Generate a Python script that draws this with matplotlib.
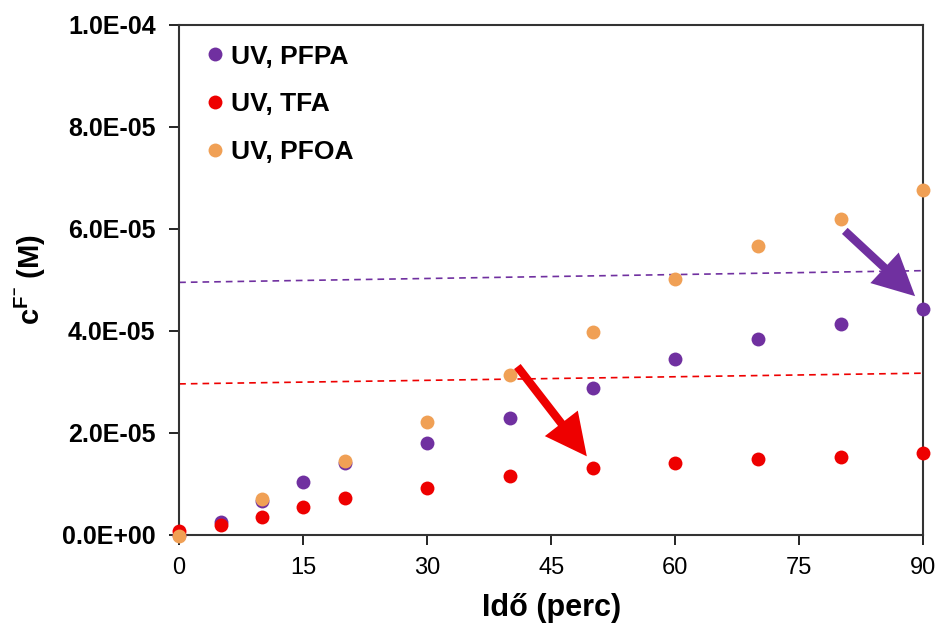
import numpy as np
import matplotlib.pyplot as plt
from matplotlib.ticker import FuncFormatter

plt.rcParams['font.family'] = ['Liberation Sans', 'DejaVu Sans']
plt.rcParams['font.weight'] = 'bold'
plt.rcParams['mathtext.fontset'] = 'custom'
plt.rcParams['mathtext.bf'] = 'Liberation Sans:bold'
plt.rcParams['mathtext.rm'] = 'Liberation Sans'

# measured concentrations (M) vs time (min)
t_pfpa = [0, 5, 10, 15, 20, 30, 40, 50, 60, 70, 80, 90]
c_pfpa = [0.0, 2.6e-6, 6.7e-6, 10.4e-6, 14.1e-6, 18.1e-6, 23.0e-6, 28.7e-6, 34.5e-6, 38.4e-6, 41.3e-6, 44.2e-6]

t_tfa = [0, 5, 10, 15, 20, 30, 40, 50, 60, 70, 80, 90]
c_tfa = [0.8e-6, 2.0e-6, 3.6e-6, 5.5e-6, 7.2e-6, 9.2e-6, 11.6e-6, 13.2e-6, 14.1e-6, 14.9e-6, 15.3e-6, 16.1e-6]

t_pfoa = [0, 10, 20, 30, 40, 50, 60, 70, 80, 90]
c_pfoa = [-0.2e-6, 7.1e-6, 14.5e-6, 22.2e-6, 31.4e-6, 39.7e-6, 50.2e-6, 56.7e-6, 62.0e-6, 67.6e-6]

# dashed reference lines
ref_x = [0, 90]
ref_pfpa = [49.5e-6, 51.8e-6]
ref_tfa = [29.6e-6, 31.7e-6]

# arrows (tail, tip)
arrow_pfpa = [(80.5, 59.6e-6), (89.0, 46.8e-6)]
arrow_tfa = [(40.9, 33.0e-6), (49.3, 15.4e-6)]

purple = '#7030A0'
red = '#EE0000'
orange = '#F0A055'

fig = plt.figure(figsize=(9.48, 6.36), dpi=100)
ax = fig.add_axes([0.189, 0.159, 0.785, 0.802])

ax.plot(ref_x, ref_pfpa, '--', color=purple, lw=1.2, dashes=(4, 3))
ax.plot(ref_x, ref_tfa, '--', color=red, lw=1.2, dashes=(4, 3))

ax.plot(t_pfpa, c_pfpa, 'o', color=purple, ms=10, mec='none', label='UV, PFPA', clip_on=False, zorder=3)
ax.plot(t_tfa, c_tfa, 'o', color=red, ms=10, mec='none', label='UV, TFA', clip_on=False, zorder=3)
ax.plot(t_pfoa, c_pfoa, 'o', color=orange, ms=10, mec='none', label='UV, PFOA', clip_on=False, zorder=3)

for (tail, tip), col in [(arrow_pfpa, purple), (arrow_tfa, red)]:
    ax.annotate('', xy=tip, xytext=tail,
                arrowprops=dict(arrowstyle='simple,head_length=1.5,head_width=1.5,tail_width=0.3',
                                mutation_scale=20, color=col, lw=0, shrinkA=0, shrinkB=0), zorder=4)

ax.set_xlim(0, 90)
ax.set_ylim(0, 1e-4)
ax.set_xticks(np.arange(0, 91, 15))
ax.set_yticks(np.arange(0, 1.01e-4, 2e-5))
ax.yaxis.set_major_formatter(FuncFormatter(lambda v, p: '%.1E' % v))
ax.tick_params(direction='out', length=7, width=1.2)
ax.tick_params(axis='y', labelsize=18, pad=10)
ax.tick_params(axis='x', labelsize=17, pad=9)
for lab in ax.get_xticklabels():
    lab.set_fontweight('normal')
for s in ax.spines.values():
    s.set_linewidth(1.5)
    s.set_color('#333333')

ax.set_xlabel('Idő (perc)', fontsize=22, fontweight='bold', labelpad=10)
ax.set_ylabel(r'c$^{\mathbf{F}^{\mathbf{-}}}$ (M)', fontsize=21, fontweight='bold', labelpad=10)

leg = ax.legend(loc='upper left', frameon=False, handletextpad=0.0,
                handlelength=1.2, labelspacing=0.9, borderaxespad=0.35,
                prop={'weight': 'bold', 'size': 19})

fig.savefig('out.png', dpi=100)
